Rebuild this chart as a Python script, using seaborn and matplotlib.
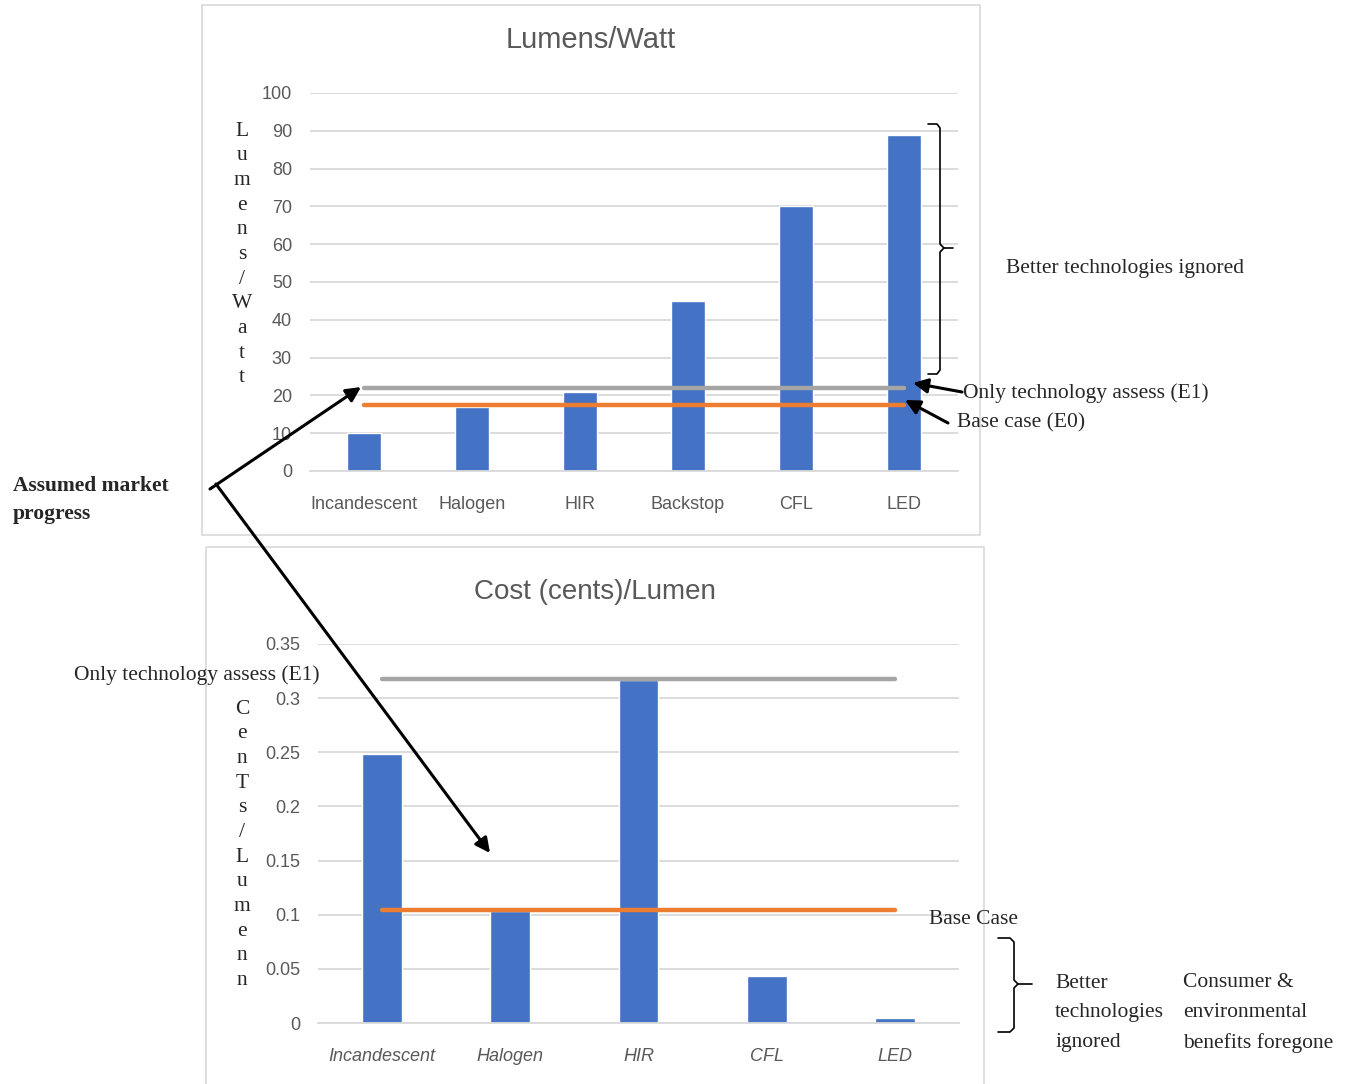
import matplotlib
matplotlib.use("Agg")
import matplotlib.pyplot as plt
import seaborn as sns
import pandas as pd

# ---------------- data ----------------
lw_categories = ["Incandescent", "Halogen", "HIR", "Backstop", "CFL", "LED"]
lw_values = [10, 17, 21, 45, 70, 89]
lw_e1 = 22      # only technology assess (E1)
lw_e0 = 17.5    # base case (E0)

cost_categories = ["Incandescent", "Halogen", "HIR", "CFL", "LED"]
cost_values = [0.248, 0.103, 0.317, 0.043, 0.005]
cost_e1 = 0.318
cost_e0 = 0.104

lw_ticks = list(range(0, 101, 10))
cost_ticks = [0, 0.05, 0.1, 0.15, 0.2, 0.25, 0.3, 0.35]
cost_ticklabels = ["0", "0.05", "0.1", "0.15", "0.2", "0.25", "0.3", "0.35"]

BAR = "#4472C4"
ORANGE = "#ED7D31"
GREY = "#A5A5A5"
GRID = "#D9D9D9"
TXT = "#595959"

sns.set_style("white")
plt.rcParams['font.family'] = ['Liberation Sans', 'DejaVu Sans']
serif = ['Liberation Serif', 'DejaVu Serif']

W, H = 1354, 1084
fig = plt.figure(figsize=(W / 100, H / 100), dpi=100)


def ax_rect(left, top, right, bottom):
    return [left / W, 1 - bottom / H, (right - left) / W, (bottom - top) / H]


def style_axes(ax, ticks, ticklabels, ymax, italic=False):
    ax.set_ylim(0, ymax)
    ax.set_yticks(ticks)
    ax.set_yticklabels(ticklabels)
    ax.grid(axis="y", color=GRID, lw=1.3)
    ax.set_axisbelow(True)
    for s in ["top", "right", "left"]:
        ax.spines[s].set_visible(False)
    ax.spines["bottom"].set_color(GRID)
    ax.spines["bottom"].set_linewidth(1.3)
    ax.tick_params(axis="both", length=0, labelsize=13, colors=TXT)
    ax.tick_params(axis="y", pad=13)
    ax.tick_params(axis="x", pad=18)
    ax.set_xlabel("")
    ax.set_ylabel("")
    if italic:
        for t in ax.get_xticklabels():
            t.set_style("italic")


# ---------------- top chart ----------------
ax1 = fig.add_axes(ax_rect(310, 93, 958, 471))
df1 = pd.DataFrame({"tech": lw_categories, "val": lw_values})
sns.barplot(data=df1, x="tech", y="val", color=BAR, width=0.31, saturation=1, ax=ax1)
ax1.set_xlim(-0.5, len(lw_categories) - 0.5)
ax1.plot([0, len(lw_categories) - 1], [lw_e1, lw_e1], color=GREY, lw=3.2, solid_capstyle="round")
ax1.plot([0, len(lw_categories) - 1], [lw_e0, lw_e0], color=ORANGE, lw=3.2, solid_capstyle="round")
style_axes(ax1, lw_ticks, [str(t) for t in lw_ticks], 100)

# ---------------- bottom chart ----------------
ax2 = fig.add_axes(ax_rect(318, 644, 959, 1023))
df2 = pd.DataFrame({"tech": cost_categories, "val": cost_values})
sns.barplot(data=df2, x="tech", y="val", color=BAR, width=0.31, saturation=1, ax=ax2)
ax2.set_xlim(-0.5, len(cost_categories) - 0.5)
ax2.plot([0, len(cost_categories) - 1], [cost_e1, cost_e1], color=GREY, lw=3.2, solid_capstyle="round")
ax2.plot([0, len(cost_categories) - 1], [cost_e0, cost_e0], color=ORANGE, lw=3.2, solid_capstyle="round")
style_axes(ax2, cost_ticks, cost_ticklabels, 0.35, italic=True)

# ---------------- overlay in pixel coords ----------------
ov = fig.add_axes([0, 0, 1, 1], zorder=10)
ov.set_xlim(0, W)
ov.set_ylim(H, 0)
ov.axis("off")
ov.patch.set_alpha(0)

# chart frames
ov.add_patch(plt.Rectangle((202, 5), 778, 530, fill=False, ec=GRID, lw=1.2))
ov.add_patch(plt.Rectangle((206, 547), 778, 540, fill=False, ec=GRID, lw=1.2))

# titles
ov.text(591, 40, "Lumens/Watt", ha="center", va="center", fontsize=21, color=TXT)
ov.text(595, 592, "Cost (cents)/Lumen", ha="center", va="center", fontsize=20, color=TXT)

# stacked y labels
for i, ch in enumerate("Lumens/Watt"):
    ov.text(242, 131 + i * 24.7, ch, ha="center", va="center", fontsize=15.5, family=serif)
for i, ch in enumerate("CenTs/Lumenn"):
    ov.text(242, 709 + i * 24.7, ch, ha="center", va="center", fontsize=15.5, family=serif)

# annotations
ov.text(963, 393, "Only technology assess (E1)", ha="left", va="center", fontsize=15.5, family=serif)
ov.text(957, 423, "Base case (E0)", ha="left", va="center", fontsize=15.5, family=serif)
ov.text(1006, 269, "Better technologies ignored", ha="left", va="center", fontsize=15.5, family=serif)
ov.text(13, 500, "Assumed market\nprogress", ha="left", va="center", fontsize=15.5,
        family=serif, fontweight="bold", linespacing=1.5)
ov.text(320, 675, "Only technology assess (E1)", ha="right", va="center", fontsize=15.5, family=serif)
ov.text(929, 919, "Base Case", ha="left", va="center", fontsize=15.5, family=serif)
ov.text(1055, 1013, "Better\ntechnologies\nignored", ha="left", va="center", fontsize=15.5,
        family=serif, linespacing=1.75)
ov.text(1183, 1013, "Consumer &\nenvironmental\nbenefits foregone", ha="left", va="center",
        fontsize=15.5, family=serif, linespacing=1.75)

arrow = dict(arrowstyle="-|>", mutation_scale=22, lw=2.2, color="black", shrinkA=0, shrinkB=0)
ov.annotate("", xy=(361, 387), xytext=(210, 489), arrowprops=arrow)
ov.annotate("", xy=(490, 853), xytext=(216, 484), arrowprops=arrow)
ov.annotate("", xy=(913, 383), xytext=(962, 392), arrowprops=arrow)
ov.annotate("", xy=(905, 400), xytext=(948, 423), arrowprops=arrow)

# curly brackets
ov.plot([928, 937, 940, 940, 944, 953], [124, 124, 128, 244, 248, 248], color="black", lw=1.2)
ov.plot([944, 940, 940, 937, 928], [248, 252, 370, 374, 374], color="black", lw=1.2)
ov.plot([998, 1010, 1014, 1014, 1018, 1032], [938, 938, 942, 980, 984, 984], color="black", lw=1.2)
ov.plot([1018, 1014, 1014, 1010, 998], [984, 988, 1028, 1032, 1032], color="black", lw=1.2)

fig.savefig("out.png", dpi=100, facecolor="white")
